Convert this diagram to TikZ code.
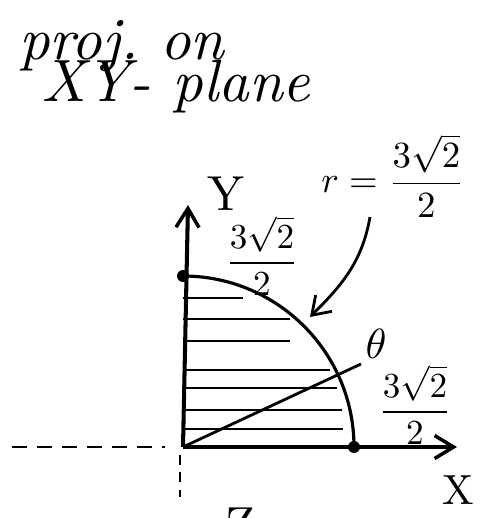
\documentclass[tikz,border=0pt]{standalone}
\usepackage{amsmath}
\usetikzlibrary{arrows.meta}
\tikzset{
    % Base style for all handwritten labels
    hand/.style={
        inner sep=0pt,
        text=black,
    },
    % Fractions next to the axes
    value label/.style={
        hand,
        scale=2,
    },
    % Title lines
    hand title/.style={
        hand,
        font=\itshape,
        scale=3.4,
    },
    % Axis letters
    axis label/.style={
        hand,
        scale=2.8,
    },
    small label/.style={
        hand,
        scale=2.4,
    },
    % Coordinate axes with open arrow heads
    axis/.style={
        line width=2.3pt,
        -{Straight Barb[length=3.8mm, width=4.6mm, line width=2pt]},
    },
    % Negative half axes, dashed
    guide/.style={
        line width=1.3pt,
        dash pattern=on 3mm off 2mm,
    },
    % Horizontal shading lines of the region
    hatch/.style={
        line width=1.4pt,
    },
    % Quarter circle boundary
    boundary/.style={
        line width=1.8pt,
    },
    % Pointer from the radius label
    pointer/.style={
        line width=1.6pt,
        -{Straight Barb[length=3.4mm, width=4.6mm, line width=1.6pt]},
    },
    % Intercept dots
    dot/.style={
        circle,
        fill=black,
        inner sep=0pt,
        minimum size=0.24cm,
    },
}

\begin{document}
\begin{tikzpicture}[x=0.02cm, y=0.02cm]
    \useasboundingbox (-183,-71) rectangle (307,447);

    % title
    \node (title1) [hand title, anchor=base west] at (-165,388) {proj.\ on};
    \node (title2) [hand title, anchor=base west] at (-143,346) {XY- plane};

    % axes
    \coordinate (O) at (0,0);
    \coordinate (ytip) at (5,242);
    \coordinate (xtip) at (274,0);
    \coordinate (xneg) at (-171,0);
    \coordinate (xnegend) at (-18,0);
    \coordinate (zneg) at (-3,-8);
    \coordinate (znegend) at (-3,-50);
    \draw [axis] (O) -- (ytip);
    \draw [axis] (O) -- (xtip);
    \draw [guide] (xneg) -- (xnegend);
    \draw [guide, dash pattern=on 2mm off 1.5mm] (zneg) -- (znegend);

    % shaded quarter disc
    \foreach \hy/\hx in {149/60, 128/107, 106/107, 77/147, 59/154, 37/159, 18/160}
        \draw [hatch] (0,\hy) -- (\hx,\hy);
    \draw [boundary] (0,171) arc[start angle=90, end angle=0, radius=171];
    \node (ydot) [dot] at (0,171) {};
    \node (xdot) [dot] at (171,0) {};

    % angle ray
    \coordinate (rayend) at (178,83);
    \draw [hatch, line width=1.6pt] (O) -- (rayend);

    % labels
    \node (ylabel) [axis label] at (43,253) {Y};
    \node (xlabel) [small label] at (275,-43) {X};
    \node (zlabel) [axis label] at (58,-78) {Z};
    \node (yval) [value label] at (79,191) {$\dfrac{3\sqrt{2}}{2}$};
    \node (xval) [value label] at (232,42) {$\dfrac{3\sqrt{2}}{2}$};
    \node (theta) [small label] at (193,103) {$\theta$};
    \node (rlabel) [value label, scale=1.05] at (210,271) {$r=\dfrac{3\sqrt{2}}{2}$};

    % pointer to the arc
    \coordinate (rstart) at (187,230);
    \coordinate (rtip) at (127,130);
    \draw [pointer] (rstart) to[out=-100, in=45] (rtip);
\end{tikzpicture}
\end{document}
